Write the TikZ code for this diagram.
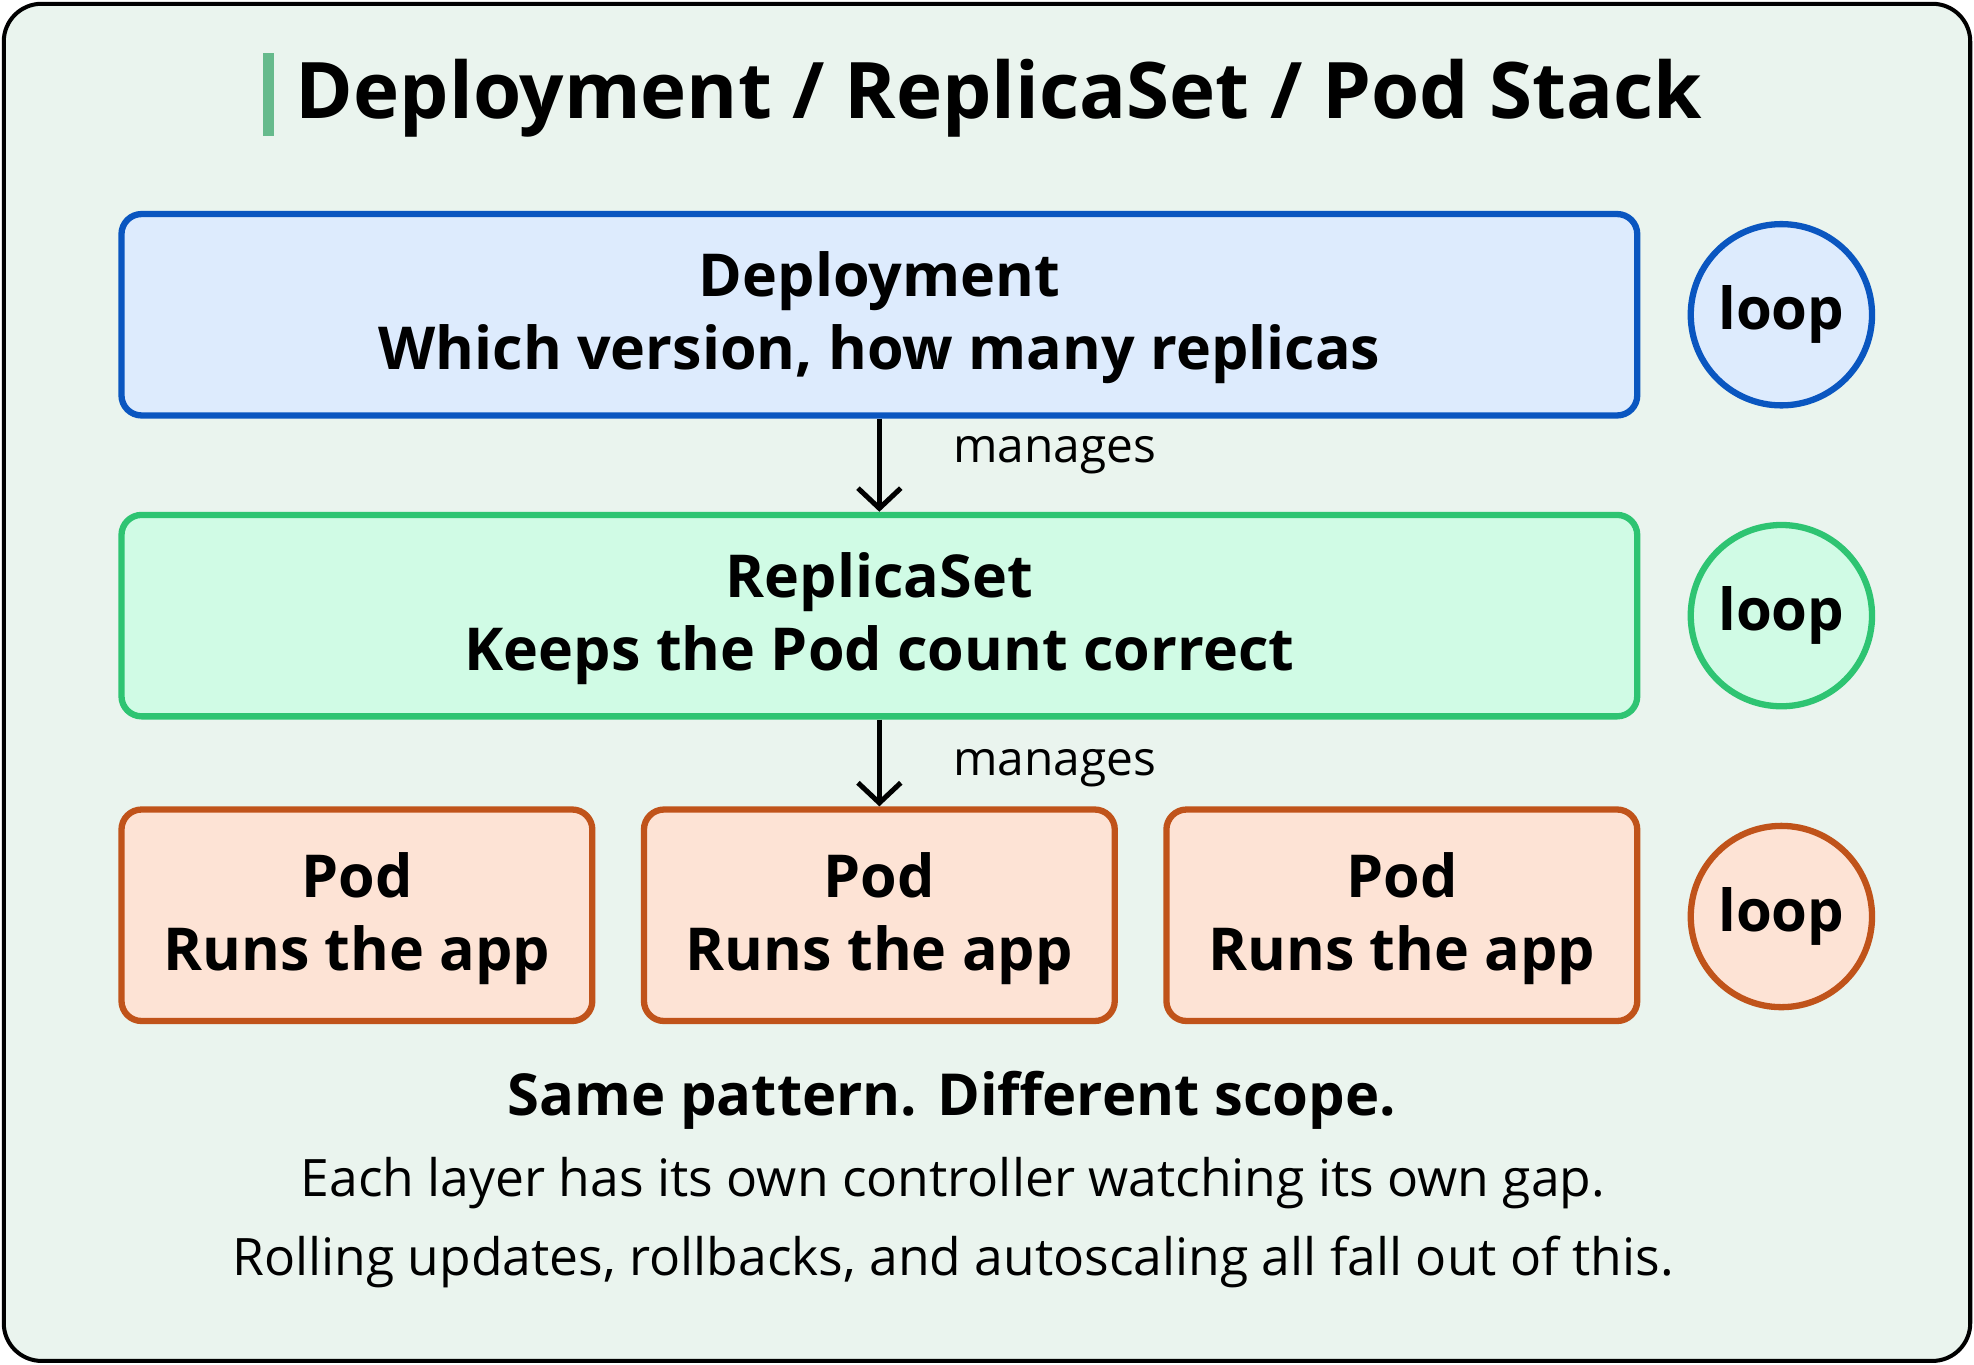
\documentclass[tikz,border=0pt]{standalone}
\usepackage{fontspec}
\setmainfont{Open Sans}
\usetikzlibrary{arrows.meta, positioning}
\definecolor{bgcol}{HTML}{EAF4EE}
\definecolor{depfill}{HTML}{DDEBFD}
\definecolor{depline}{HTML}{0A56C0}
\definecolor{rsfill}{HTML}{D0FBE5}
\definecolor{rsline}{HTML}{2EC472}
\definecolor{podfill}{HTML}{FDE3D5}
\definecolor{podline}{HTML}{C0531A}
\tikzset{
  layer/.style={draw, line width=2.5pt, rounded corners=8pt, align=center,
    font=\fontsize{23.5}{29}\selectfont\bfseries, inner sep=0pt},
  ctrl/.style={circle, draw, line width=2.5pt, minimum size=72pt, inner sep=0pt,
    font=\fontsize{23}{28}\selectfont\bfseries},
  mgr/.style={-{Straight Barb[length=8pt,width=17pt]}, line width=2pt},
  mlabel/.style={font=\fontsize{19}{22}\selectfont, anchor=west}
}
\begin{document}
\begin{tikzpicture}[x=0.5pt,y=-0.5pt]
  \useasboundingbox (0,0) rectangle (1568,1084);
  \draw[line width=1.6pt, fill=bgcol, rounded corners=15pt] (3,3) rectangle (1565,1081);
  \fill[rsline!80!black!70] (209,42) rectangle (218,108);
  \node[anchor=west, font=\fontsize{31}{36}\selectfont\bfseries] (title) at (228,78) {Deployment / ReplicaSet / Pod Stack};

  \node[layer, fill=depfill, draw=depline, minimum width=602pt, minimum height=80pt] (dep) at (698.5,250) {\strut Deployment\\Which version, how many replicas};
  \node[layer, fill=rsfill, draw=rsline, minimum width=602pt, minimum height=80pt] (rs) at (698.5,489) {\strut ReplicaSet\\Keeps the Pod count correct};
  \node[layer, fill=podfill, draw=podline, minimum width=187pt, minimum height=84pt] (pod1) at (283.5,727) {\strut Pod\\Runs the app};
  \node[layer, fill=podfill, draw=podline, minimum width=187pt, minimum height=84pt] (pod2) at (698.5,727) {\strut Pod\\Runs the app};
  \node[layer, fill=podfill, draw=podline, minimum width=187pt, minimum height=84pt] (pod3) at (1113.5,727) {\strut Pod\\Runs the app};

  \node[ctrl, draw=depline, fill=depfill] (loopdep) at (1415,250) {\raisebox{-2pt}{loop}};
  \node[ctrl, draw=rsline, fill=rsfill] (looprs) at (1415,489) {\raisebox{-2pt}{loop}};
  \node[ctrl, draw=podline, fill=podfill] (looppod) at (1415,728) {\raisebox{-2pt}{loop}};

  \draw[mgr] (dep.south) -- (rs.north) node[mlabel, midway, xshift=25pt, yshift=4pt] {manages};
  \draw[mgr] (rs.south) -- (pod2.north) node[mlabel, midway, xshift=25pt, yshift=-2pt] {manages};

  \node[font=\fontsize{23}{27}\selectfont\bfseries] (motto) at (756,874) {Same pattern. Different scope.};
  \node[font=\fontsize{20.5}{24}\selectfont] (note1) at (757,940) {Each layer has its own controller watching its own gap.};
  \node[font=\fontsize{20.5}{24}\selectfont] (note2) at (757,1002) {Rolling updates, rollbacks, and autoscaling all fall out of this.};
\end{tikzpicture}
\end{document}
